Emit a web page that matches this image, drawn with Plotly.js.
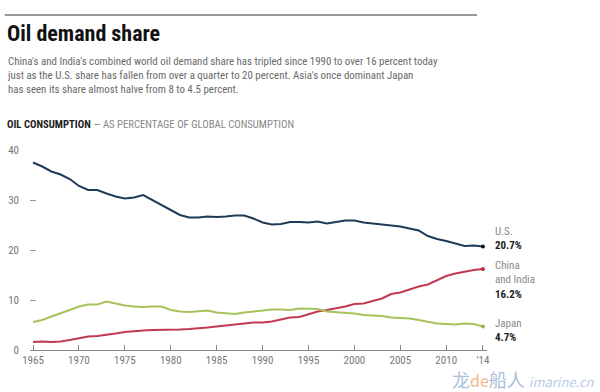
<!DOCTYPE html>
<html>
<head>
<meta charset="utf-8">
<script src="https://cdn.plot.ly/plotly-3.0.1.min.js"></script>
<style>
html,body{margin:0;padding:0;background:#fff;}
#chart{width:600px;height:392px;}
</style>
</head>
<body>
<div id="chart"></div>
<script>
const years = [1965,1966,1967,1968,1969,1970,1971,1972,1973,1974,1975,1976,1977,1978,1979,1980,1981,1982,1983,1984,1985,1986,1987,1988,1989,1990,1991,1992,1993,1994,1995,1996,1997,1998,1999,2000,2001,2002,2003,2004,2005,2006,2007,2008,2009,2010,2011,2012,2013,2014];
const usShare = [37.5,36.7,35.7,35.1,34.2,32.8,32.0,32.0,31.3,30.7,30.3,30.5,31.0,30.0,28.9,27.9,27.0,26.5,26.5,26.7,26.6,26.7,26.9,26.9,26.3,25.5,25.1,25.2,25.6,25.6,25.5,25.7,25.3,25.6,25.9,25.9,25.5,25.3,25.1,25.0,24.7,24.3,23.9,22.8,22.2,21.8,21.3,20.8,20.9,20.7];
const chinaIndiaShare = [1.6,1.7,1.6,1.7,2.0,2.3,2.7,2.8,3.0,3.3,3.6,3.8,3.9,4.0,4.0,4.0,4.1,4.2,4.3,4.5,4.7,4.9,5.1,5.3,5.5,5.5,5.7,6.1,6.5,6.6,7.1,7.7,8.0,8.3,8.7,9.2,9.3,9.8,10.3,11.2,11.5,12.1,12.7,13.1,14.0,14.8,15.3,15.7,16.0,16.2];
const japanShare = [5.6,6.0,6.7,7.3,8.0,8.7,9.1,9.1,9.7,9.3,8.9,8.7,8.6,8.7,8.7,8.0,7.7,7.6,7.7,7.9,7.5,7.3,7.2,7.5,7.7,8.0,8.1,8.1,8.0,8.3,8.3,8.2,7.7,7.6,7.5,7.3,7.0,6.9,6.8,6.5,6.4,6.3,6.0,5.7,5.3,5.2,5.1,5.3,5.2,4.7];
const xTickVals = [1965,1970,1975,1980,1985,1990,1995,2000,2005,2010,2014];
const xTickText = ['1965','1970','1975','1980','1985','1990','1995','2000','2005','2010',"'14"];
const yTickVals = [0,10,20,30,40];
const seriesNames = ['U.S.','China and India','Japan'];
const endLabels = ['U.S.','China<br>and India','Japan'];

const colors = ['#1f3b57','#c23a52','#a7c25c'];
const dotColors = ['#111','#c0283f','#9ab54f'];
const seriesData = [usShare, chinaIndiaShare, japanShare];
const FONT = '"Liberation Sans Narrow", "Roboto Condensed", Roboto, sans-serif';

const traces = [];
seriesData.forEach((vals, i) => {
  traces.push({
    x: years, y: vals, type: 'scatter', mode: 'lines', name: seriesNames[i],
    line: {color: colors[i], width: 2}, hoverinfo: 'skip'
  });
  traces.push({
    x: [years[years.length-1]], y: [vals[vals.length-1]], type: 'scatter', mode: 'markers',
    marker: {color: dotColors[i], size: 4}, hoverinfo: 'skip'
  });
});

const yShifts = [8, -11, -4];
const annotations = seriesData.map((vals, i) => ({
  x: years[years.length-1], y: vals[vals.length-1], xref: 'x', yref: 'y',
  xanchor: 'left', yanchor: 'middle', xshift: 10, yshift: yShifts[i], align: 'left',
  showarrow: false,
  text: '<span style="color:#8a8a8a">' + endLabels[i] + '</span><br><b>' + vals[vals.length-1].toFixed(1) + '%</b>',
  font: {family: FONT, size: 11, color: '#222'}
}));

const layout = {
  width: 600, height: 392,
  margin: {l: 30, r: 113, t: 150, b: 42},
  paper_bgcolor: '#fff', plot_bgcolor: '#fff',
  showlegend: false,
  font: {family: FONT, color: '#777', size: 11},
  xaxis: {
    range: [1964.67, 2014.44], tickvals: xTickVals, ticktext: xTickText,
    showgrid: false, zeroline: false, showline: true, linecolor: '#888', linewidth: 1,
    ticks: 'inside', ticklen: 5, tickcolor: '#888',
    tickfont: {family: FONT, size: 11, color: '#777'}
  },
  yaxis: {
    range: [0, 40], tickvals: yTickVals, showgrid: false, zeroline: false, showline: false,
    ticks: 'inside', ticklen: 6, tickcolor: '#999', ticklabelstandoff: 10,
    tickfont: {family: FONT, size: 11, color: '#777'}
  },
  shapes: [
    {type:'line', xref:'paper', yref:'paper', x0:-0.055, x1:0.978, y0:1.675, y1:1.675, line:{color:'#999', width:2}}
  ],
  annotations: annotations.concat([
    {xref:'paper', yref:'paper', x:-0.055, y:1.58, xanchor:'left', yanchor:'middle', showarrow:false,
     text:'<b>Oil demand share</b>', font:{family:FONT, size:22, color:'#111'}},
    {xref:'paper', yref:'paper', x:-0.055, y:1.375, xanchor:'left', yanchor:'middle', showarrow:false, align:'left',
     text:"China's and India's combined world oil demand share has tripled since 1990 to over 16 percent today<br>just as the U.S. share has fallen from over a quarter to 20 percent. Asia's once dominant Japan<br>has seen its share almost halve from 8 to 4.5 percent.",
     font:{family:FONT, size:10.9, color:'#6a6a6a'}},
    {xref:'paper', yref:'paper', x:-0.055, y:1.13, xanchor:'left', yanchor:'middle', showarrow:false,
     text:'<b><span style="color:#222">OIL CONSUMPTION</span></b> — AS PERCENTAGE OF GLOBAL CONSUMPTION',
     font:{family:FONT, size:10.7, color:'#888'}},
    {xref:'paper', yref:'paper', x:1.24, y:-0.145, xanchor:'right', yanchor:'middle', showarrow:false,
     text:'<span style="color:#a9bfdb;font-size:18px">龙</span><span style="color:#f2b98a;font-size:16px">de</span><span style="color:#a9bfdb;font-size:18px">船人 </span><i><span style="color:#b8cbe3">imarine.cn</span></i>',
     font:{family:'"Noto Sans CJK SC", sans-serif', size:13, color:'#b8cbe3'}}
  ])
};

Plotly.newPlot('chart', traces, layout, {displayModeBar: false, staticPlot: true});
</script>
</body>
</html>
